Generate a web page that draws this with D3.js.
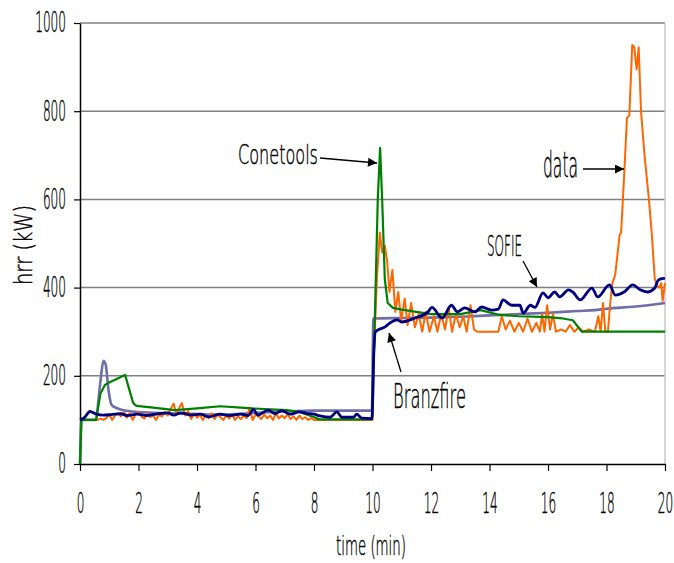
<!DOCTYPE html>
<html>
<head>
<meta charset="utf-8">
<script src="https://cdn.jsdelivr.net/npm/d3@7"></script>
<style>
html,body{margin:0;padding:0;background:#fff;}
svg text{font-family:"DejaVu Sans","Liberation Sans",sans-serif;font-weight:200;fill:#000;stroke:#000;stroke-width:0.45px;}
</style>
</head>
<body>
<svg id="chart" width="674" height="563"></svg>
<script>
// ---- data ----
const xTicks = [0,2,4,6,8,10,12,14,16,18,20];
const yTicks = [0,200,400,600,800,1000];

const seriesNames = ["Branzfire","data","Conetools","SOFIE"];

const branzfire = [[0,0],[0.05,100],[0.55,100],[0.63,145],[0.72,200],[0.8,234],[0.88,225],[0.97,170],[1.08,134],[1.25,127],[1.5,122],[2,118],[3,115],[4,113],[4.8,112],[5.5,114],[6,116],[7,119],[8,121],[9,121],[9.98,121],[10.03,330],[11,331],[12,332],[13,334],[14,337],[15,340],[16,343],[17,347],[17.6,349],[18,352],[19,357],[20,365]];

const dataSeries = [[0,100],[0.6,100],[0.7,103],[0.8,100],[0.9,104],[1.0,112],[1.1,100],[1.2,110],[1.3,115],[1.4,108],[1.5,118],[1.6,105],[1.7,115],[1.8,100],[1.9,112],[2.0,118],[2.1,108],[2.2,103],[2.3,115],[2.4,106],[2.5,110],[2.6,100],[2.7,112],[2.8,108],[2.9,118],[3.0,110],[3.1,125],[3.2,137],[3.3,112],[3.4,128],[3.48,138],[3.6,110],[3.7,120],[3.8,102],[3.9,115],[4.0,105],[4.1,112],[4.2,100],[4.3,110],[4.4,104],[4.5,115],[4.6,102],[4.7,112],[4.8,106],[4.9,100],[5.0,110],[5.1,103],[5.2,112],[5.3,100],[5.4,108],[5.5,102],[5.6,110],[5.7,104],[5.8,128],[5.9,100],[6.0,112],[6.1,108],[6.2,102],[6.3,112],[6.4,104],[6.5,110],[6.6,100],[6.7,115],[6.8,103],[6.9,110],[7.0,104],[7.1,113],[7.2,102],[7.3,108],[7.4,100],[7.5,110],[7.6,102],[7.7,106],[7.8,100],[7.9,104],[8.0,100],[10.0,100],[10.05,250],[10.15,420],[10.25,525],[10.33,480],[10.42,495],[10.5,460],[10.58,390],[10.68,440],[10.78,345],[10.88,390],[10.98,325],[11.1,375],[11.2,315],[11.32,365],[11.45,310],[11.58,340],[11.7,300],[11.82,345],[11.95,300],[12.1,335],[12.22,300],[12.35,340],[12.48,305],[12.6,355],[12.72,300],[12.85,340],[12.98,310],[13.1,335],[13.22,300],[13.35,360],[13.47,305],[13.58,300],[14.3,300],[14.42,335],[14.55,305],[14.7,325],[14.85,300],[15.0,320],[15.15,300],[15.3,330],[15.45,300],[15.6,320],[15.72,300],[15.8,340],[15.88,300],[15.97,360],[16.07,305],[16.17,340],[16.27,300],[16.45,305],[16.6,300],[16.75,315],[16.9,300],[17.05,310],[17.2,300],[17.4,305],[17.6,300],[17.72,335],[17.8,300],[17.88,365],[17.96,300],[18.05,300],[18.12,360],[18.2,410],[18.3,430],[18.45,520],[18.5,525],[18.6,650],[18.7,785],[18.78,790],[18.88,950],[18.95,945],[19.03,895],[19.1,945],[19.18,800],[19.3,700],[19.45,600],[19.55,520],[19.65,420],[19.72,405],[19.8,400],[19.87,410],[19.92,370],[20,410]];

const conetools = [[0,0],[0.05,100],[0.55,100],[0.7,160],[0.85,179],[1.0,185],[1.54,202],[1.82,138],[1.93,132],[2.5,128],[3.25,122],[4,126],[4.8,131],[5.5,128],[5.9,126],[6.5,124],[7.07,122],[7.5,118],[7.97,107],[8.2,101],[9.98,101],[10.08,330],[10.18,600],[10.26,717],[10.33,600],[10.42,420],[10.52,365],[10.7,354],[11,350],[12,340],[13,340],[13.7,349],[14.35,338],[15,335],[16,333],[16.5,330],[16.85,326],[17.15,300],[20,300]];

const sofie = [[0,100],[0.15,105],[0.34,119],[0.57,113],[0.8,111],[1.06,112],[1.4,114],[1.6,110],[1.96,113],[2.3,110],[2.6,113],[3.0,116],[3.2,111],[3.45,116],[3.8,111],[4.1,113],[4.4,107],[4.8,113],[5.1,110],[5.5,113],[5.75,110],[5.93,124],[6.08,111],[6.43,122],[6.67,114],[6.9,121],[7.18,113],[7.5,118],[7.75,115],[8.0,113],[8.2,109],[8.55,106],[8.78,118],[8.95,106],[9.35,106],[9.46,113],[9.63,104],[9.98,103],[10.05,260],[10.1,300],[10.43,311],[10.6,320],[10.84,327],[11.0,322],[11.45,331],[11.9,345],[12.03,355],[12.38,331],[12.7,360],[12.9,345],[13.15,354],[13.5,345],[13.73,356],[14.07,349],[14.3,351],[14.46,372],[14.76,360],[15.04,360],[15.15,342],[15.4,360],[15.55,355],[15.83,388],[16.0,377],[16.23,390],[16.4,379],[16.7,395],[16.85,390],[17.1,372],[17.5,399],[17.7,379],[18.1,406],[18.3,383],[18.6,390],[18.9,406],[19.15,395],[19.4,390],[19.65,399],[19.77,417],[19.94,421],[20,420]];

// ---- layout ----
const svg = d3.select("#chart");
const x = d3.scaleLinear().domain([0,20]).range([80,665]);
const y = d3.scaleLinear().domain([0,1000]).range([464,23]);

// gridlines
svg.append("g").selectAll("line").data(yTicks.filter(v=>v>0)).join("line")
  .attr("x1",x(0)).attr("x2",x(20)).attr("y1",d=>y(d)).attr("y2",d=>y(d))
  .attr("stroke","#808080").attr("stroke-width",1.5);
// right border
svg.append("line").attr("x1",x(20)).attr("x2",x(20)).attr("y1",y(1000)).attr("y2",y(0))
  .attr("stroke","#c8c8c8").attr("stroke-width",1.5);

// axes
const yAxis = svg.append("g").attr("transform",`translate(${x(0)},0)`)
  .call(d3.axisLeft(y).tickValues(yTicks).tickFormat(d3.format("d")).tickSize(6).tickPadding(8).tickSizeOuter(0));
const xAxis = svg.append("g").attr("transform",`translate(0,${y(0)})`)
  .call(d3.axisBottom(x).tickValues(xTicks).tickFormat(d3.format("d")).tickSize(7).tickPadding(22).tickSizeOuter(0));
[yAxis,xAxis].forEach(g=>{
  g.attr("font-family",null).attr("font-size",null);
  g.select(".domain").attr("stroke","#000").attr("stroke-width",1.5);
  g.selectAll(".tick line").attr("stroke","#000").attr("stroke-width",1.2);
  g.selectAll(".tick text").style("font-size","28px").attr("fill","#000")
    .each(function(){const t=d3.select(this);const s=t.text();t.attr("textLength",s.length*7.7).attr("lengthAdjust","spacingAndGlyphs");});
});

// lines
const line = d3.line().x(d=>x(d[0])).y(d=>y(d[1]));
const smooth = d3.line().x(d=>x(d[0])).y(d=>y(d[1])).curve(d3.curveMonotoneX);
svg.append("path").datum(branzfire).attr("d",smooth).attr("fill","none").attr("stroke","#6E6EA8").attr("stroke-width",2.6);
svg.append("path").datum(dataSeries).attr("d",line).attr("fill","none").attr("stroke","#FF6600").attr("stroke-width",2).attr("stroke-linejoin","round");
svg.append("path").datum(conetools).attr("d",line).attr("fill","none").attr("stroke","#008000").attr("stroke-width",2.2).attr("stroke-linejoin","round");
svg.append("path").datum(sofie).attr("d",smooth).attr("fill","none").attr("stroke","#000080").attr("stroke-width",2.8);

// arrow marker
svg.append("defs").append("marker").attr("id","arr").attr("viewBox","0 0 10 10")
  .attr("refX",10).attr("refY",5).attr("markerWidth",11).attr("markerHeight",9)
  .attr("markerUnits","userSpaceOnUse").attr("orient","auto")
  .append("path").attr("d","M0,0 L10,5 L0,10 Z").attr("fill","#000");

function label(txt,xx,yy,fs,len){
  svg.append("text").attr("x",xx).attr("y",yy).style("font-size",fs+"px")
    .attr("textLength",len).attr("lengthAdjust","spacingAndGlyphs").text(txt);
}
function arrow(x1,y1,x2,y2){
  svg.append("line").attr("x1",x1).attr("y1",y1).attr("x2",x2).attr("y2",y2)
    .attr("stroke","#000").attr("stroke-width",1.3).attr("marker-end","url(#arr)");
}
label("Conetools",238,164,27,80);
arrow(320,158,377,163);
label("data",543,177,35,35);
arrow(583,169,624,169);
label("SOFIE",487,256,28,35);
arrow(523,261,537,287);
label("Branzfire",393,408,34,73);
arrow(401,372,389,333);

// axis titles
label("time (min)",336,555,26,70);
svg.append("text").attr("transform","translate(32,285) rotate(-90)").style("font-size","24px")
  .attr("textLength",80).attr("lengthAdjust","spacingAndGlyphs").text("hrr (kW)");
</script>
</body>
</html>
